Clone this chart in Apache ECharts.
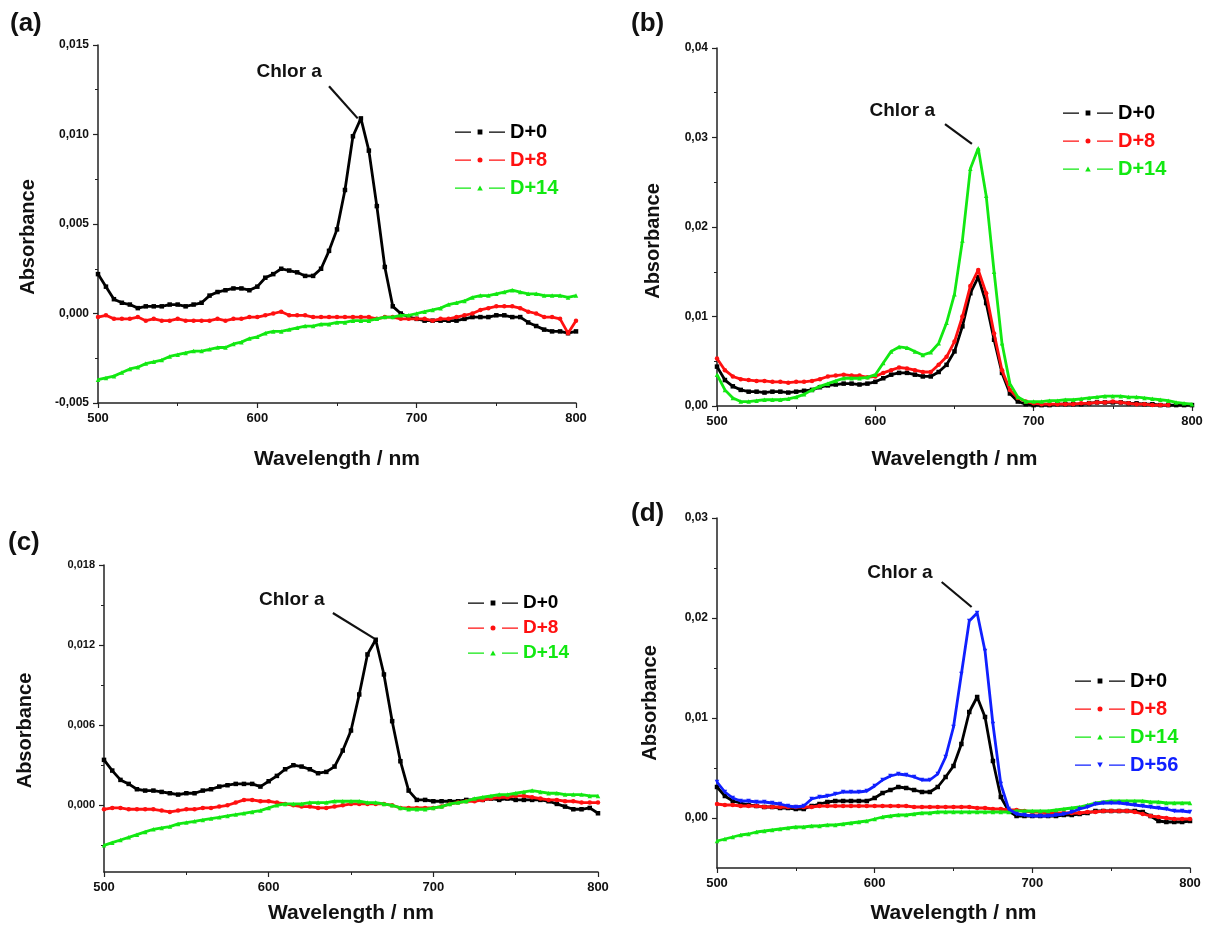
<!DOCTYPE html>
<html>
<head>
<meta charset="utf-8">
<script src="https://cdn.jsdelivr.net/npm/echarts@6/dist/echarts.min.js"></script>
<style>
  html, body { margin: 0; padding: 0; background: #fff; }
  #chart { width: 1213px; height: 927px; }
</style>
</head>
<body>
<div id="chart"></div>
<script>
// Wavelength grid (nm) shared by every spectrum
const wavelengths = [
  500, 505, 510, 515, 520, 525, 530, 535, 540, 545,
  550, 555, 560, 565, 570, 575, 580, 585, 590, 595,
  600, 605, 610, 615, 620, 625, 630, 635, 640, 645,
  650, 655, 660, 665, 670, 675, 680, 685, 690, 695,
  700, 705, 710, 715, 720, 725, 730, 735, 740, 745,
  750, 755, 760, 765, 770, 775, 780, 785, 790, 795,
  800
];

// Panel (a) absorbance
const aD0 = [
  0.0022, 0.0015, 0.0008, 0.0006, 0.0005, 0.0003, 0.0004, 0.0004, 0.0004, 0.0005,
  0.0005, 0.0004, 0.0005, 0.0006, 0.0010, 0.0012, 0.0013, 0.0014, 0.0014, 0.0013,
  0.0015, 0.0020, 0.0022, 0.0025, 0.0024, 0.0023, 0.0021, 0.0021, 0.0025, 0.0035,
  0.0047, 0.0069, 0.0099, 0.0109, 0.0091, 0.0060, 0.0026, 0.0004, 0.0000, -0.0002,
  -0.0003, -0.0004, -0.0004, -0.0004, -0.0004, -0.0004, -0.0003, -0.0002, -0.0002, -0.0002,
  -0.0001, -0.0001, -0.0002, -0.0002, -0.0005, -0.0007, -0.0009, -0.0010, -0.0010, -0.0011,
  -0.0010
];
const aD8 = [
  -0.0002, -0.0001, -0.0003, -0.0003, -0.0003, -0.0002, -0.0004, -0.0003, -0.0004, -0.0004,
  -0.0003, -0.0004, -0.0004, -0.0004, -0.0004, -0.0003, -0.0004, -0.0003, -0.0003, -0.0002,
  -0.0002, -0.0001, 0.0000, 0.0001, -0.0001, -0.0001, -0.0001, -0.0002, -0.0002, -0.0002,
  -0.0002, -0.0002, -0.0002, -0.0002, -0.0002, -0.0003, -0.0002, -0.0002, -0.0003, -0.0003,
  -0.0003, -0.0003, -0.0004, -0.0003, -0.0003, -0.0002, -0.0001, 0.0000, 0.0002, 0.0003,
  0.0004, 0.0004, 0.0004, 0.0003, 0.0001, 0.0000, -0.0002, -0.0002, -0.0003, -0.0011,
  -0.0004
];
const aD14 = [
  -0.0037, -0.0036, -0.0035, -0.0033, -0.0031, -0.0030, -0.0028, -0.0027, -0.0026, -0.0024,
  -0.0023, -0.0022, -0.0021, -0.0021, -0.0020, -0.0019, -0.0019, -0.0017, -0.0016, -0.0014,
  -0.0013, -0.0011, -0.0010, -0.0010, -0.0009, -0.0008, -0.0007, -0.0007, -0.0006, -0.0006,
  -0.0005, -0.0005, -0.0004, -0.0004, -0.0004, -0.0003, -0.0002, -0.0002, -0.0001, -0.0001,
  0.0000, 0.0001, 0.0002, 0.0003, 0.0005, 0.0006, 0.0007, 0.0009, 0.0010, 0.0010,
  0.0011, 0.0012, 0.0013, 0.0012, 0.0011, 0.0011, 0.0010, 0.0010, 0.0010, 0.0009,
  0.0010
];

// Panel (b) absorbance
const bD0 = [
  0.0044, 0.0029, 0.0022, 0.0018, 0.0016, 0.0016, 0.0015, 0.0016, 0.0016, 0.0015,
  0.0016, 0.0017, 0.0018, 0.0021, 0.0023, 0.0024, 0.0025, 0.0025, 0.0024, 0.0025,
  0.0027, 0.0031, 0.0035, 0.0037, 0.0037, 0.0035, 0.0033, 0.0033, 0.0038, 0.0046,
  0.0061, 0.0089, 0.0126, 0.0144, 0.0115, 0.0074, 0.0037, 0.0014, 0.0005, 0.0002,
  0.0001, 0.0001, 0.0001, 0.0002, 0.0002, 0.0002, 0.0002, 0.0003, 0.0004, 0.0004,
  0.0004, 0.0004, 0.0003, 0.0003, 0.0002, 0.0002, 0.0001, 0.0001, 0.0001, 0.0001,
  0.0001
];
const bD8 = [
  0.0053, 0.0040, 0.0033, 0.0030, 0.0029, 0.0028, 0.0028, 0.0027, 0.0027, 0.0026,
  0.0027, 0.0027, 0.0028, 0.0030, 0.0033, 0.0034, 0.0035, 0.0034, 0.0034, 0.0032,
  0.0033, 0.0037, 0.0040, 0.0043, 0.0042, 0.0040, 0.0038, 0.0038, 0.0046, 0.0055,
  0.0072, 0.0100, 0.0134, 0.0152, 0.0126, 0.0081, 0.0040, 0.0018, 0.0009, 0.0005,
  0.0003, 0.0002, 0.0002, 0.0002, 0.0002, 0.0002, 0.0003, 0.0003, 0.0004, 0.0004,
  0.0005, 0.0004, 0.0003, 0.0002, 0.0002, 0.0001, 0.0001, 0.0001, null, null,
  null
];
const bD14 = [
  0.0035, 0.0018, 0.0009, 0.0005, 0.0005, 0.0006, 0.0007, 0.0007, 0.0007, 0.0008,
  0.0010, 0.0013, 0.0018, 0.0022, 0.0025, 0.0028, 0.0031, 0.0031, 0.0031, 0.0032,
  0.0035, 0.0048, 0.0061, 0.0066, 0.0065, 0.0061, 0.0057, 0.0060, 0.0070, 0.0093,
  0.0125, 0.0185, 0.0265, 0.0288, 0.0235, 0.0150, 0.0070, 0.0025, 0.0010, 0.0005,
  0.0005, 0.0005, 0.0006, 0.0006, 0.0007, 0.0007, 0.0008, 0.0009, 0.0010, 0.0011,
  0.0011, 0.0011, 0.0010, 0.0010, 0.0009, 0.0008, 0.0007, 0.0006, 0.0004, 0.0003,
  0.0002
];

// Panel (c) absorbance
const cD0 = [
  0.0034, 0.0026, 0.0019, 0.0016, 0.0012, 0.0011, 0.0011, 0.0010, 0.0009, 0.0008,
  0.0009, 0.0009, 0.0011, 0.0012, 0.0014, 0.0015, 0.0016, 0.0016, 0.0016, 0.0014,
  0.0018, 0.0022, 0.0027, 0.0030, 0.0029, 0.0027, 0.0024, 0.0025, 0.0029, 0.0041,
  0.0056, 0.0083, 0.0113, 0.0124, 0.0098, 0.0063, 0.0033, 0.0011, 0.0004, 0.0004,
  0.0003, 0.0003, 0.0003, 0.0003, 0.0004, 0.0004, 0.0004, 0.0005, 0.0004, 0.0005,
  0.0004, 0.0004, 0.0004, 0.0004, 0.0003, 0.0001, -0.0001, -0.0003, -0.0003, -0.0002,
  -0.0006
];
const cD8 = [
  -0.0003, -0.0002, -0.0002, -0.0003, -0.0003, -0.0003, -0.0003, -0.0004, -0.0005, -0.0004,
  -0.0003, -0.0003, -0.0002, -0.0002, -0.0001, 0.0000, 0.0002, 0.0004, 0.0004, 0.0003,
  0.0003, 0.0002, 0.0001, 0.0000, -0.0001, -0.0001, -0.0002, -0.0002, -0.0001, 0.0000,
  0.0001, 0.0001, 0.0001, 0.0001, 0.0001, 0.0000, -0.0002, -0.0002, -0.0002, -0.0002,
  -0.0002, -0.0001, 0.0001, 0.0002, 0.0003, 0.0003, 0.0004, 0.0005, 0.0006, 0.0006,
  0.0007, 0.0007, 0.0006, 0.0005, 0.0004, 0.0004, 0.0003, 0.0003, 0.0002, 0.0002,
  0.0002
];
const cD14 = [
  -0.0030, -0.0028, -0.0026, -0.0024, -0.0022, -0.0020, -0.0018, -0.0017, -0.0016, -0.0014,
  -0.0013, -0.0012, -0.0011, -0.0010, -0.0009, -0.0008, -0.0007, -0.0006, -0.0005, -0.0004,
  -0.0002, 0.0000, 0.0001, 0.0001, 0.0001, 0.0002, 0.0002, 0.0002, 0.0003, 0.0003,
  0.0003, 0.0003, 0.0002, 0.0002, 0.0001, 0.0000, -0.0002, -0.0003, -0.0003, -0.0003,
  -0.0002, -0.0001, 0.0001, 0.0002, 0.0003, 0.0005, 0.0006, 0.0007, 0.0008, 0.0008,
  0.0009, 0.0010, 0.0011, 0.0010, 0.0009, 0.0009, 0.0008, 0.0008, 0.0008, 0.0007,
  0.0007
];

// Panel (d) absorbance
const dD0 = [
  0.0031, 0.0022, 0.0017, 0.0015, 0.0013, 0.0012, 0.0011, 0.0011, 0.0010, 0.0010,
  0.0009, 0.0009, 0.0012, 0.0014, 0.0016, 0.0017, 0.0017, 0.0017, 0.0017, 0.0017,
  0.0020, 0.0025, 0.0028, 0.0031, 0.0030, 0.0028, 0.0026, 0.0026, 0.0031, 0.0041,
  0.0052, 0.0074, 0.0106, 0.0121, 0.0101, 0.0057, 0.0021, 0.0007, 0.0002, 0.0002,
  0.0002, 0.0002, 0.0002, 0.0002, 0.0003, 0.0003, 0.0004, 0.0005, 0.0007, 0.0007,
  0.0007, 0.0007, 0.0007, 0.0007, 0.0006, 0.0002, -0.0003, -0.0004, -0.0004, -0.0004,
  -0.0003
];
const dD8 = [
  0.0014, 0.0013, 0.0013, 0.0012, 0.0012, 0.0012, 0.0011, 0.0011, 0.0011, 0.0011,
  0.0011, 0.0011, 0.0011, 0.0012, 0.0012, 0.0012, 0.0012, 0.0012, 0.0012, 0.0012,
  0.0012, 0.0012, 0.0012, 0.0012, 0.0012, 0.0011, 0.0011, 0.0011, 0.0011, 0.0011,
  0.0011, 0.0011, 0.0011, 0.0010, 0.0010, 0.0009, 0.0009, 0.0008, 0.0008, 0.0007,
  0.0006, 0.0006, 0.0005, 0.0005, 0.0005, 0.0005, 0.0005, 0.0006, 0.0006, 0.0007,
  0.0007, 0.0007, 0.0007, 0.0006, 0.0004, 0.0002, 0.0001, 0.0000, -0.0001, -0.0001,
  -0.0001
];
const dD14 = [
  -0.0023, -0.0021, -0.0019, -0.0017, -0.0016, -0.0014, -0.0013, -0.0012, -0.0011, -0.0010,
  -0.0009, -0.0009, -0.0008, -0.0008, -0.0007, -0.0007, -0.0006, -0.0005, -0.0004, -0.0003,
  -0.0001, 0.0001, 0.0002, 0.0003, 0.0003, 0.0004, 0.0005, 0.0005, 0.0006, 0.0006,
  0.0006, 0.0006, 0.0006, 0.0006, 0.0006, 0.0006, 0.0006, 0.0006, 0.0007, 0.0007,
  0.0007, 0.0007, 0.0007, 0.0008, 0.0009, 0.0010, 0.0011, 0.0013, 0.0015, 0.0016,
  0.0017, 0.0017, 0.0017, 0.0017, 0.0017, 0.0016, 0.0016, 0.0015, 0.0015, 0.0015,
  0.0015
];
const dD56 = [
  0.0036, 0.0026, 0.0020, 0.0017, 0.0017, 0.0016, 0.0016, 0.0015, 0.0014, 0.0012,
  0.0011, 0.0012, 0.0019, 0.0021, 0.0022, 0.0024, 0.0026, 0.0026, 0.0026, 0.0027,
  0.0032, 0.0038, 0.0042, 0.0044, 0.0043, 0.0041, 0.0038, 0.0038, 0.0044, 0.0061,
  0.0091, 0.0144, 0.0197, 0.0205, 0.0167, 0.0094, 0.0034, 0.0009, 0.0004, 0.0003,
  0.0002, 0.0002, 0.0002, 0.0003, 0.0004, 0.0006, 0.0009, 0.0011, 0.0014, 0.0015,
  0.0015, 0.0015, 0.0014, 0.0013, 0.0012, 0.0011, 0.0010, 0.0009, 0.0007, 0.0007,
  0.0006
];

// Tick positions
const xTicks = [500, 600, 700, 800];
const yMajorA = [-0.005, 0, 0.005, 0.010, 0.015];
const yMinorA = [-0.0025, 0.0025, 0.0075, 0.0125];
const yMajorB = [0, 0.01, 0.02, 0.03, 0.04];
const yMinorB = [0.005, 0.015, 0.025, 0.035];
const yMajorC = [0, 0.006, 0.012, 0.018];
const yMinorC = [-0.003, 0.003, 0.009, 0.015];
const yMajorD = [0, 0.01, 0.02, 0.03];
const yMinorD = [0.005, 0.015, 0.025];

const seriesNames = ['D+0', 'D+8', 'D+14', 'D+56'];
const peakLabel = 'Chlor a';

// ---- styling ----
const styles = {
  'D+0':  { color: '#000000', symbol: 'rect', rotate: 0,
            icon: 'path://M0,2.4h16v1.3h-16zM22.6,0.6h4.8v4.8h-4.8zM34,2.4h16v1.3h-16z' },
  'D+8':  { color: '#ff1010', symbol: 'circle', rotate: 0,
            icon: 'path://M0,2.4h16v1.3h-16zM22.5,3a2.5,2.5 0 1,0 5,0a2.5,2.5 0 1,0 -5,0zM34,2.4h16v1.3h-16z' },
  'D+14': { color: '#12e812', symbol: 'triangle', rotate: 0,
            icon: 'path://M0,2.4h16v1.3h-16zM25,0.5L27.8,5.5L22.2,5.5zM34,2.4h16v1.3h-16z' },
  'D+56': { color: '#1020ff', symbol: 'triangle', rotate: 180,
            icon: 'path://M0,2.4h16v1.3h-16zM22.2,0.5L27.8,0.5L25,5.5zM34,2.4h16v1.3h-16z' }
};

const panels = [
  { tag: '(a)', tagPos: [10, 11],
    grid: { left: 98, top: 45, width: 478, height: 358 },
    yMin: -0.005, yMax: 0.015, yMajor: yMajorA, yMinor: yMinorA, decimals: 3,
    data: [aD0, aD8, aD14], gapY: 60, gapX: 46, titleShift: 26, labelSize: 12,
    legend: { left: 455, top: 121, pitch: 28, size: 20 },
    label: [620, 0.0135], arrow: [[645, 0.0127], [663, 0.0109]], head: false },
  { tag: '(b)', tagPos: [631, 11],
    grid: { left: 717, top: 48, width: 475, height: 358 },
    yMin: 0, yMax: 0.04, yMajor: yMajorB, yMinor: yMinorB, decimals: 2,
    data: [bD0, bD8, bD14], gapY: 54, gapX: 43, titleShift: 28, labelSize: 12,
    legend: { left: 1063, top: 102, pitch: 28, size: 20 },
    label: [617, 0.0330], arrow: [[644, 0.0315], [661, 0.0293]], head: true },
  { tag: '(c)', tagPos: [8, 530],
    grid: { left: 104, top: 565, width: 494, height: 307 },
    yMin: -0.005, yMax: 0.018, yMajor: yMajorC, yMinor: yMinorC, decimals: 3,
    data: [cD0, cD8, cD14], gapY: 69, gapX: 31, titleShift: 24, labelSize: 11,
    legend: { left: 468, top: 592, pitch: 25, size: 19 },
    label: [614, 0.0154], arrow: [[639, 0.0144], [664, 0.0125]], head: false },
  { tag: '(d)', tagPos: [631, 501],
    grid: { left: 717, top: 518, width: 473, height: 350 },
    yMin: -0.005, yMax: 0.03, yMajor: yMajorD, yMinor: yMinorD, decimals: 2,
    data: [dD0, dD8, dD14, dD56], gapY: 57, gapX: 35, titleShift: 20, labelSize: 12,
    legend: { left: 1075, top: 670, pitch: 28, size: 20 },
    label: [616, 0.0245], arrow: [[642.5, 0.0236], [661.5, 0.0211]], head: true }
];

const axisColor = '#222';
const fontFamily = '"Liberation Sans", Arial, Helvetica, sans-serif';

const grids = [], xAxes = [], yAxes = [], series = [], legends = [], graphics = [];

panels.forEach((p, i) => {
  grids.push(Object.assign({ containLabel: false }, p.grid));

  xAxes.push({
    type: 'value', gridIndex: i, min: 500, max: 800, interval: 100,
    name: 'Wavelength / nm', nameLocation: 'middle', nameGap: p.gapX,
    nameTextStyle: { fontFamily, fontWeight: 'bold', fontSize: 21, color: '#111' },
    axisLine: { show: true, onZero: false, lineStyle: { color: axisColor, width: 1.5 } },
    axisTick: { show: true, inside: false, length: 5, lineStyle: { color: axisColor, width: 1.2 } },
    minorTick: { show: true, splitNumber: 2, length: 3, lineStyle: { color: axisColor, width: 1 } },
    axisLabel: { fontFamily, fontWeight: 'bold', fontSize: 13, color: '#111', margin: 9,
                 customValues: xTicks },
    splitLine: { show: false }, minorSplitLine: { show: false }
  });

  // main value axis with labelled ticks
  yAxes.push({
    type: 'value', gridIndex: i, position: 'left', min: p.yMin, max: p.yMax,
    name: 'Absorbance', nameLocation: 'middle', nameGap: p.gapY,
    nameTextStyle: { fontFamily, fontWeight: 'bold', fontSize: 20, color: '#111',
                     padding: [0, p.titleShift, 0, 0] },
    axisLine: { show: true, onZero: false, lineStyle: { color: axisColor, width: 1.5 } },
    axisTick: { show: true, inside: false, length: 5, customValues: p.yMajor,
                lineStyle: { color: axisColor, width: 1.2 } },
    axisLabel: { fontFamily, fontWeight: 'bold', fontSize: p.labelSize, color: '#111', margin: 9,
                 customValues: p.yMajor,
                 formatter: v => v.toFixed(p.decimals).replace('.', ',') },
    splitLine: { show: false }
  });
  // companion axis on the same side that only carries the minor ticks
  yAxes.push({
    type: 'value', gridIndex: i, position: 'left', offset: 0, min: p.yMin, max: p.yMax,
    axisLine: { show: false },
    axisTick: { show: true, inside: false, length: 3, customValues: p.yMinor,
                lineStyle: { color: axisColor, width: 1 } },
    axisLabel: { show: false },
    splitLine: { show: false }
  });

  p.data.forEach((arr, k) => {
    const name = seriesNames[k];
    const st = styles[name];
    const s = {
      type: 'line', name, xAxisIndex: i, yAxisIndex: 2 * i,
      data: wavelengths.map((w, j) => [w, arr[j]]),
      symbol: st.symbol, symbolRotate: st.rotate, symbolSize: 4.5, showSymbol: true,
      lineStyle: { color: st.color, width: 2.8 },
      itemStyle: { color: st.color },
      connectNulls: false, z: 2 + k, silent: true
    };
    if (k === 0) {
      s.markLine = {
        silent: true, animation: false,
        symbol: ['none', p.head ? 'arrow' : 'none'], symbolSize: [0, 11],
        lineStyle: { color: '#111', width: 2.2, type: 'solid' },
        label: { show: false },
        data: [[ { coord: p.arrow[0] }, { coord: p.arrow[1] } ]]
      };
      s.markPoint = {
        silent: true, animation: false,
        symbol: 'circle', symbolSize: 1,
        itemStyle: { color: 'rgba(0,0,0,0)' },
        label: { show: true, position: 'inside', formatter: '{t|' + peakLabel + '}',
                 rich: { t: { fontFamily, fontWeight: 'bold', fontSize: 19, color: '#111' } } },
        data: [ { coord: p.label } ]
      };
    }
    series.push(s);
  });

  const names = seriesNames.slice(0, p.data.length);
  legends.push({
    orient: 'vertical', left: p.legend.left, top: p.legend.top,
    itemWidth: 50, itemHeight: 5, itemGap: p.legend.pitch - 22,
    selectedMode: false, padding: 0,
    data: names.map(n => ({
      name: n, icon: styles[n].icon,
      itemStyle: { color: styles[n].color },
      textStyle: { color: styles[n].color, fontFamily, fontWeight: 'bold',
                   fontSize: p.legend.size, lineHeight: 22 }
    })),
    textStyle: { fontFamily, fontWeight: 'bold', fontSize: p.legend.size, lineHeight: 22 }
  });

  graphics.push({
    type: 'text', left: p.tagPos[0], top: p.tagPos[1],
    style: { text: p.tag, fontFamily, fontWeight: 'bold', fontSize: 26, fill: '#111' }
  });
});

const chart = echarts.init(document.getElementById('chart'), null, { renderer: 'canvas' });
chart.setOption({
  animation: false,
  backgroundColor: '#ffffff',
  grid: grids,
  xAxis: xAxes,
  yAxis: yAxes,
  legend: legends,
  series: series,
  graphic: graphics
});
</script>
</body>
</html>
